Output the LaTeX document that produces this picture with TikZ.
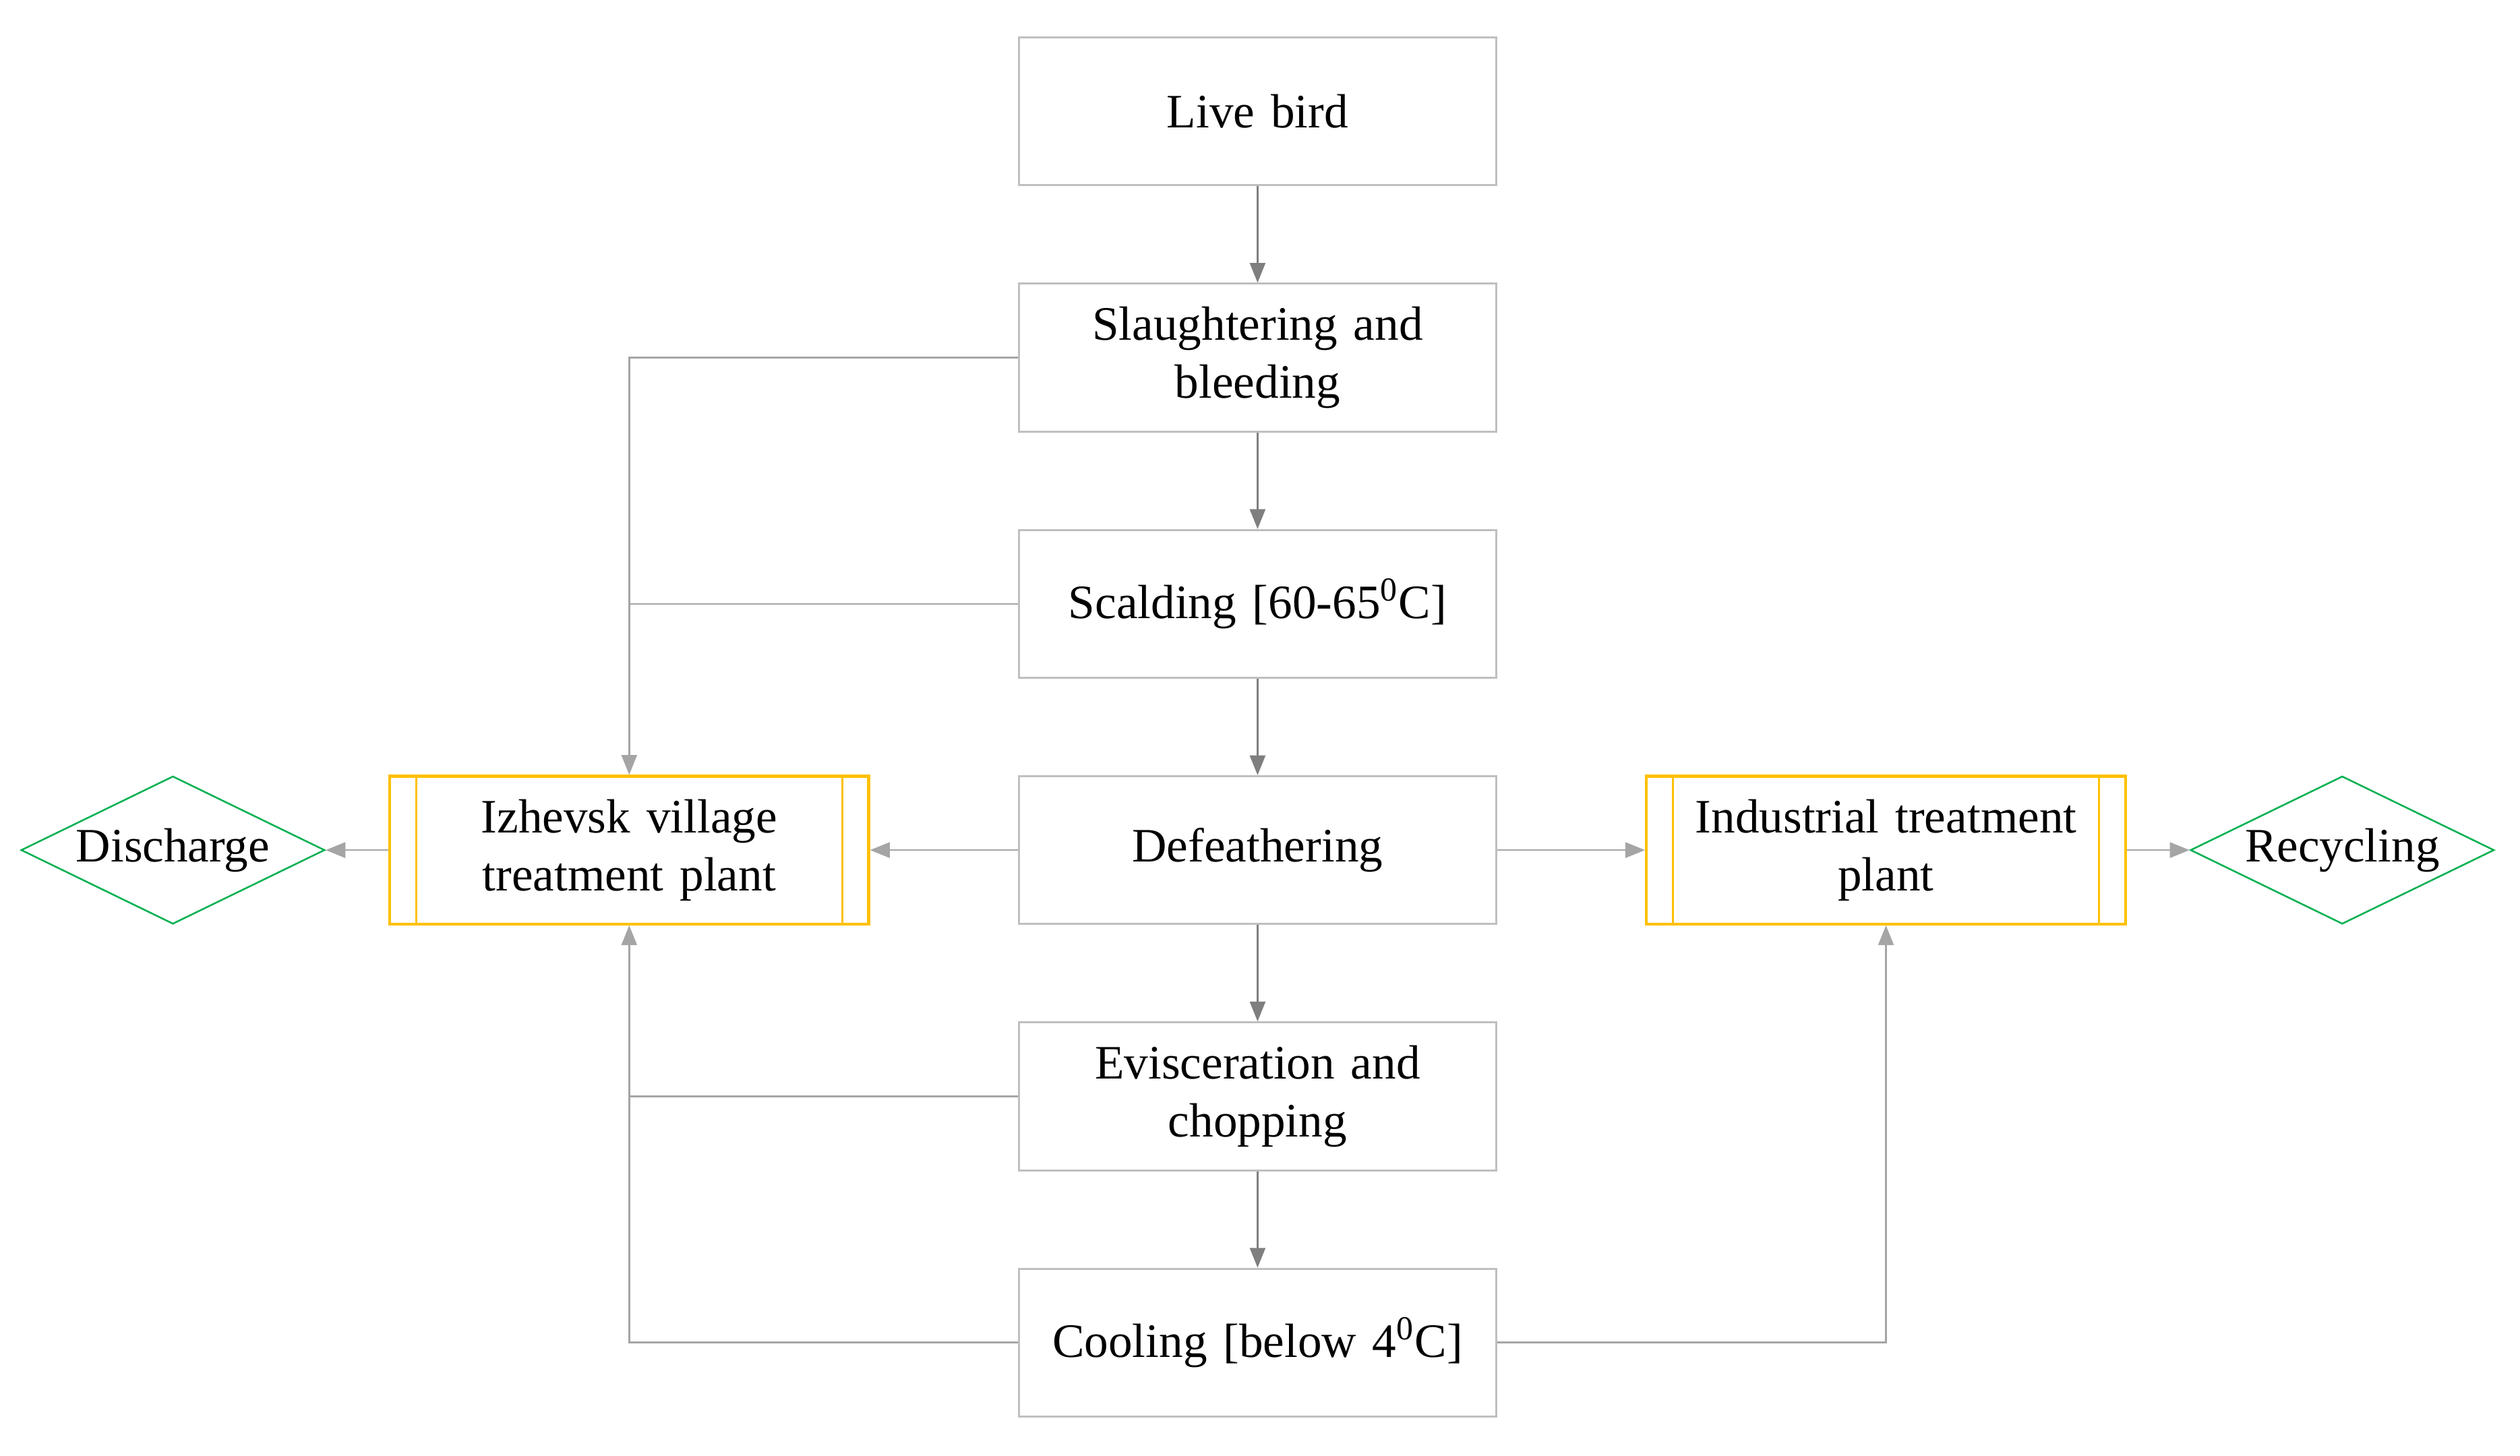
\documentclass[tikz,border=0pt]{standalone}
\usepackage{fontspec}
\setmainfont{Liberation Serif}
\usetikzlibrary{positioning,shapes.geometric,arrows.meta}
\definecolor{boxgray}{HTML}{BFBFBF}
\definecolor{flowgray}{HTML}{7F7F7F}
\definecolor{sidegray}{HTML}{A5A5A5}
\definecolor{plantorange}{HTML}{FFC000}
\definecolor{endgreen}{HTML}{00B050}
\begin{document}
\begin{tikzpicture}[
	font = \fontsize{17}{20.5}\selectfont,
	node distance = 1.2cm,
	every node/.style = {align=center, inner sep=0pt},
	stage/.style = {draw=boxgray, line width=0.7pt, rectangle, minimum width=5.94cm, minimum height=1.84cm, text width=5.2cm},
	plant/.style = {draw=plantorange, line width=1pt, rectangle, minimum width=5.96cm, minimum height=1.84cm, text width=5cm,
		path picture={
			\draw[plantorange, line width=0.8pt] ([xshift=0.33cm]path picture bounding box.north west) -- ([xshift=0.33cm]path picture bounding box.south west);
			\draw[plantorange, line width=0.8pt] ([xshift=-0.33cm]path picture bounding box.north east) -- ([xshift=-0.33cm]path picture bounding box.south east);
		}},
	outlet/.style = {draw=endgreen, line width=0.6pt, diamond, aspect=2, minimum width=3.78cm, minimum height=1.84cm},
	flow/.style = {draw=flowgray, line width=0.6pt, -{Triangle[length=7pt, width=5.5pt]}},
	side/.style = {draw=sidegray, line width=0.6pt, -{Triangle[length=7pt, width=5.5pt]}},
	sideline/.style = {draw=sidegray, line width=0.6pt}
	]
	
	\useasboundingbox (-15.65,-7.54) rectangle (15.71,10.58);
	
	% main line
	\node[stage] (defeath) at (0,0) {Defeathering};
	\node[stage, above=of defeath] (scald) {Scalding [60-65\textsuperscript{0}C]};
	\node[stage, above=of scald] (slaughter) {Slaughtering and\\bleeding};
	\node[stage, above=of slaughter] (live) {Live bird};
	\node[stage, below=of defeath] (evisc) {Evisceration and\\chopping};
	\node[stage, below=of evisc] (cool) {Cooling [below 4\textsuperscript{0}C]};
	
	% treatment plants and outlets
	\node[plant, left=1.84cm of defeath] (izhevsk) {Izhevsk village\\treatment plant};
	\node[plant, right=1.84cm of defeath] (industrial) {Industrial treatment\\plant};
	\node[outlet, left=0.78cm of izhevsk] (discharge) {Discharge};
	\node[outlet, right=0.78cm of industrial] (recycling) {Recycling};
	
	\foreach \a/\b in {live/slaughter, slaughter/scald, scald/defeath, defeath/evisc, evisc/cool}
		\draw[flow] (\a) -- (\b);
	
	\draw[side] (slaughter.west) -| (izhevsk.north);
	\draw[sideline] (scald.west) -- (scald.west -| izhevsk.north);
	\draw[side] (cool.west) -| (izhevsk.south);
	\draw[sideline] (evisc.west) -- (evisc.west -| izhevsk.south);
	\draw[side] (cool.east) -| (industrial.south);
	\draw[side] (defeath.west) -- (izhevsk.east);
	\draw[side] (defeath.east) -- (industrial.west);
	\draw[side] (izhevsk.west) -- (discharge.east);
	\draw[side] (industrial.east) -- (recycling.west);
	
\end{tikzpicture}
\end{document}
